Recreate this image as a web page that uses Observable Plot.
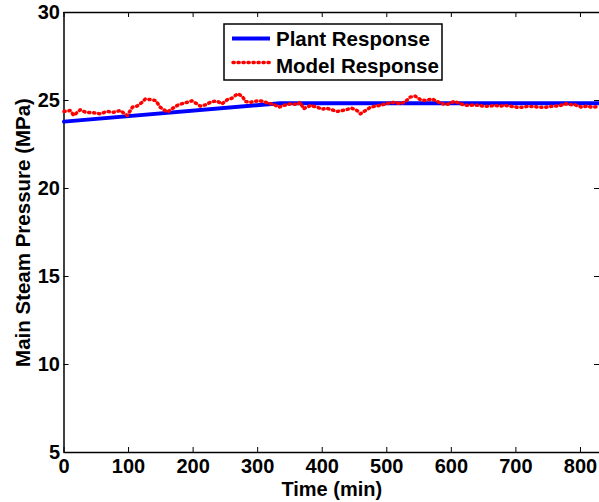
<!DOCTYPE html>
<html>
<head>
<meta charset="utf-8">
<script src="https://cdn.jsdelivr.net/npm/d3@7"></script>
<script src="https://cdn.jsdelivr.net/npm/@observablehq/plot@0.6"></script>
<style>
  html, body { margin: 0; padding: 0; background: #fff; }
  #wrap { position: relative; width: 599px; height: 502px; }
  #legend { position: absolute; left: 0; top: 0; }
</style>
</head>
<body>
<div id="wrap"></div>
<script>
// ---- data ----
const xTicks = [0, 100, 200, 300, 400, 500, 600, 700, 800];
const yTicks = [5, 10, 15, 20, 25, 30];

const plantTime = [0, 335, 829];
const plantPressure = [23.8, 24.85, 24.85];

const modelTime = [0, 10, 15, 25, 33, 46, 56, 67, 77, 87,
  98, 106, 113, 121, 126, 134, 142, 149, 160, 167,
  178, 188, 198, 206, 211, 219, 229, 237, 245, 253,
  260, 269, 276, 281, 289, 296, 304, 315, 325, 333,
  340, 351, 361, 366, 371, 382, 392, 400, 407, 415,
  423, 431, 438, 446, 454, 459, 467, 475, 482, 490,
  498, 506, 513, 521, 529, 536, 544, 552, 560, 570,
  578, 586, 593, 604, 611, 619, 627, 635, 642, 650,
  658, 668, 676, 684, 691, 702, 710, 717, 728, 735,
  746, 753, 761, 769, 777, 784, 792, 802, 810, 818, 829];
const modelPressure = [24.38, 24.43, 24.15, 24.47, 24.34, 24.30, 24.24, 24.38, 24.33, 24.43,
  24.15, 24.62, 24.68, 24.90, 25.09, 25.05, 25.00, 24.62, 24.34, 24.53,
  24.77, 24.87, 24.98, 24.81, 24.68, 24.75, 24.94, 24.96, 24.81, 25.05,
  25.13, 25.38, 25.25, 24.94, 24.90, 24.96, 24.98, 24.87, 24.77, 24.62,
  24.72, 24.81, 24.77, 24.90, 24.53, 24.72, 24.62, 24.51, 24.56, 24.47,
  24.38, 24.43, 24.49, 24.56, 24.43, 24.24, 24.43, 24.62, 24.68, 24.72,
  24.81, 24.87, 24.90, 24.81, 24.94, 25.19, 25.25, 25.05, 25.00, 25.09,
  24.94, 24.81, 24.77, 24.94, 24.87, 24.75, 24.72, 24.75, 24.72, 24.68,
  24.68, 24.72, 24.68, 24.72, 24.68, 24.62, 24.62, 24.66, 24.66, 24.62,
  24.62, 24.66, 24.68, 24.72, 24.81, 24.77, 24.75, 24.62, 24.68, 24.62, 24.66];

const seriesNames = ["Plant Response", "Model Response"];
const xLabel = "Time (min)";
const yLabel = "Main Steam Pressure (MPa)";

// ---- tables ----
const plant = plantTime.map((t, i) => ({t, p: plantPressure[i]}));
const model = modelTime.map((t, i) => ({t, p: modelPressure[i]}));

const W = 599, H = 502, mL = 63.5, mR = 0, mT = 12, mB = 50;
const fw = W - mL - mR, fh = H - mT - mB;
const font = "'Liberation Sans', Arial, Helvetica, sans-serif";

const chart = Plot.plot({
  width: W, height: H,
  marginLeft: mL, marginRight: mR, marginTop: mT, marginBottom: mB,
  x: {domain: [0, 829.5]},
  y: {domain: [5, 30]},
  style: {fontFamily: font, fontWeight: "bold", fontSize: "20px", color: "black", background: "white", overflow: "visible"},
  marks: [
    // box (left, top, bottom)
    Plot.ruleX([0], {stroke: "black", strokeWidth: 1.5}),
    Plot.ruleY([5, 30], {stroke: "black", strokeWidth: 1.5}),
    // inward ticks
    Plot.tickX(xTicks, {x: d => d, insetTop: fh - 5, stroke: "black"}),
    Plot.tickX(xTicks, {x: d => d, insetBottom: fh - 5, stroke: "black"}),
    Plot.tickY(yTicks, {y: d => d, insetRight: fw - 5, stroke: "black"}),
    Plot.tickY(yTicks, {y: d => d, insetLeft: fw - 5, stroke: "black"}),
    // tick labels
    Plot.axisX(xTicks, {anchor: "bottom", tickSize: 0, tickPadding: 6, fontSize: 20, fontWeight: "bold", label: null}),
    Plot.axisY(yTicks, {anchor: "left", tickSize: 0, tickPadding: 4, fontSize: 20, fontWeight: "bold", label: null}),
    // axis titles
    Plot.text([xLabel], {text: d => d, frameAnchor: "bottom", dy: 37.5, fontSize: 20, fontWeight: "bold", lineAnchor: "middle", textAnchor: "middle"}),
    Plot.text([yLabel], {text: d => d, frameAnchor: "left", dx: -40.5, rotate: -90, fontSize: 20.5, fontWeight: "bold", lineAnchor: "middle", textAnchor: "middle"}),
    // series
    Plot.line(plant, {x: "t", y: "p", stroke: "#0000ff", strokeWidth: 4}),
    Plot.line(model, {x: "t", y: "p", stroke: "#ff0000", strokeWidth: 3.5, strokeDasharray: "1.2,3.8", strokeLinecap: "round"})
  ]
});

const wrap = document.getElementById("wrap");
wrap.appendChild(chart);

// legend overlay (inside the axes, top)
const lg = d3.select(wrap).append("svg")
  .attr("id", "legend").attr("width", W).attr("height", H)
  .style("pointer-events", "none");
lg.append("rect").attr("x", 224).attr("y", 24).attr("width", 218).attr("height", 56)
  .attr("fill", "white").attr("stroke", "black").attr("stroke-width", 1.5);
lg.append("line").attr("x1", 232).attr("x2", 270).attr("y1", 38.5).attr("y2", 38.5)
  .attr("stroke", "#0000ff").attr("stroke-width", 4);
lg.append("line").attr("x1", 233).attr("x2", 270).attr("y1", 62.5).attr("y2", 62.5)
  .attr("stroke", "#ff0000").attr("stroke-width", 3.5).attr("stroke-dasharray", "1.2,3.8").attr("stroke-linecap", "round");
lg.append("text").attr("x", 276).attr("y", 46).text(seriesNames[0])
  .attr("font-family", font).attr("font-weight", "bold").attr("font-size", 20.5);
lg.append("text").attr("x", 276).attr("y", 73).text(seriesNames[1])
  .attr("font-family", font).attr("font-weight", "bold").attr("font-size", 20.5);
</script>
</body>
</html>
